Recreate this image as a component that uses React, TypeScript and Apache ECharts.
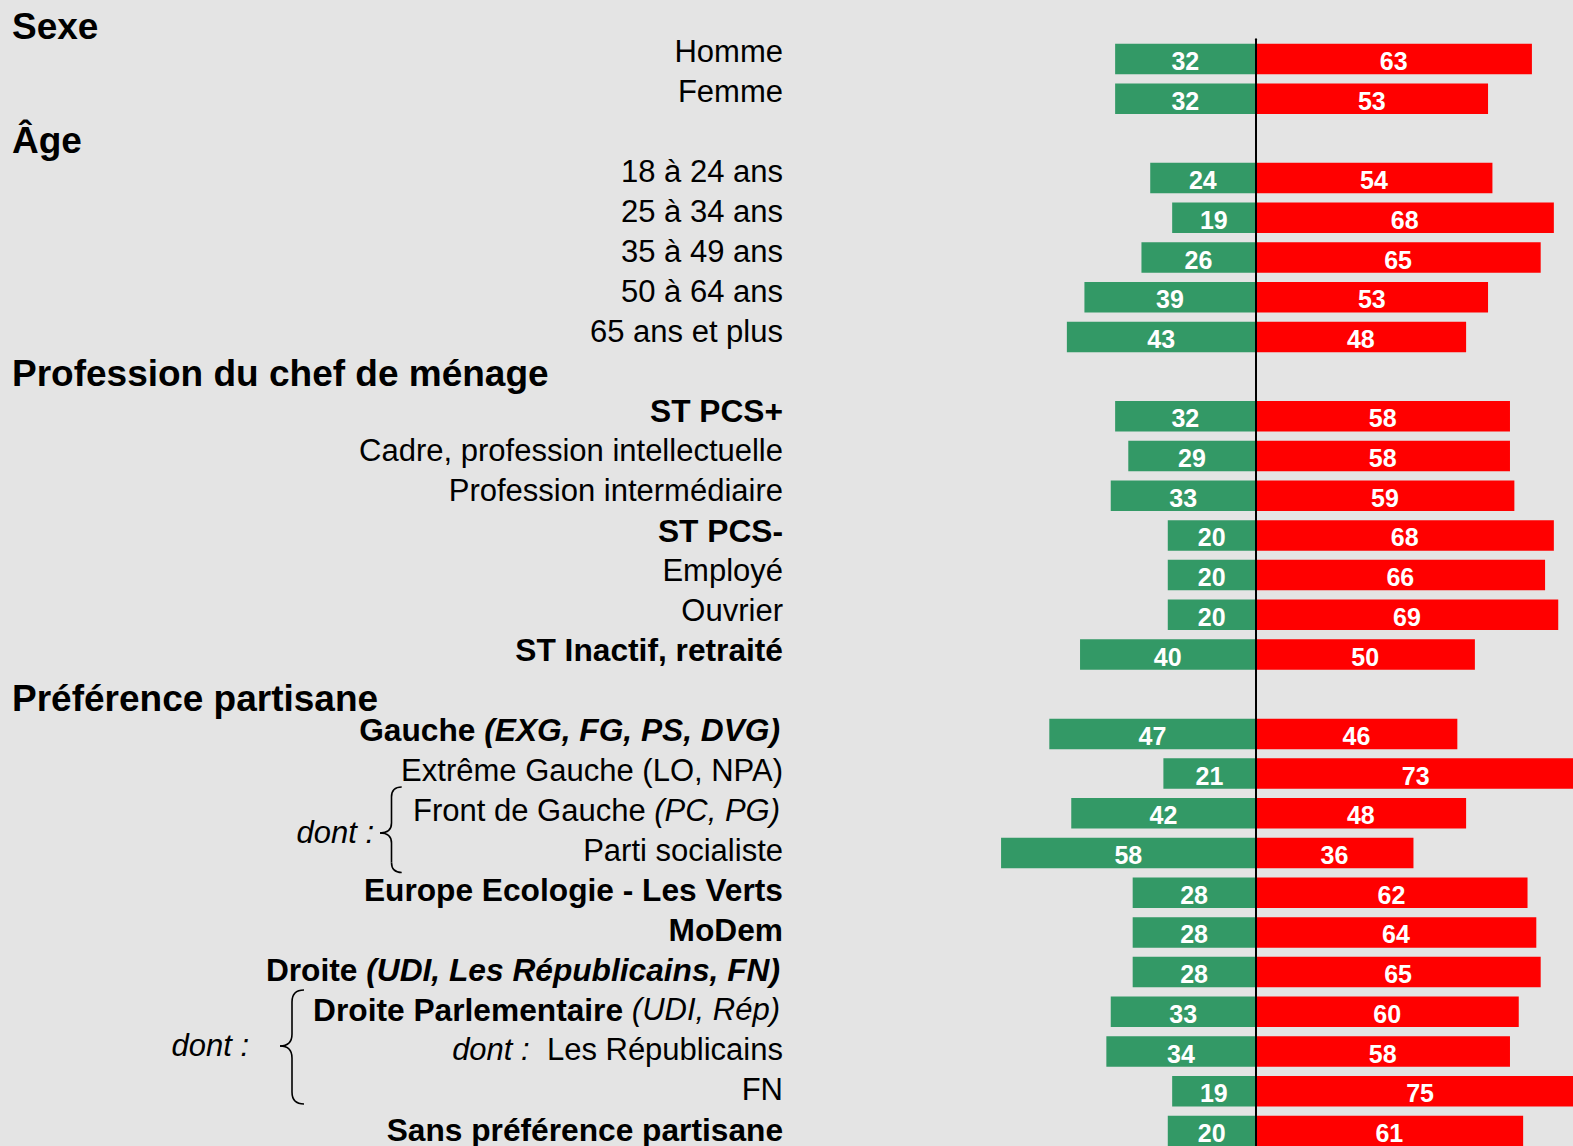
import React, { useEffect, useRef } from 'react';
import * as echarts from 'echarts';

// ---- data ----
const categories: string[] = [
  'Sexe',
  'Homme',
  'Femme',
  'Âge',
  '18 à 24 ans',
  '25 à 34 ans',
  '35 à 49 ans',
  '50 à 64 ans',
  '65 ans et plus',
  'Profession du chef de ménage',
  'ST PCS+',
  'Cadre, profession intellectuelle',
  'Profession intermédiaire',
  'ST PCS-',
  'Employé',
  'Ouvrier',
  'ST Inactif, retraité',
  'Préférence partisane',
  'Gauche (EXG, FG, PS, DVG)',
  'Extrême Gauche (LO, NPA)',
  'Front de Gauche (PC, PG)',
  'Parti socialiste',
  'Europe Ecologie - Les Verts',
  'MoDem',
  'Droite (UDI, Les Républicains, FN)',
  'Droite Parlementaire (UDI, Rép)',
  'dont : Les Républicains',
  'FN',
  'Sans préférence partisane',
];

const headerNames: string[] = ['Sexe', 'Âge', 'Profession du chef de ménage', 'Préférence partisane'];

const greenValues: (number | null)[] = [
  null, 32, 32,
  null, 24, 19, 26, 39, 43,
  null, 32, 29, 33, 20, 20, 20, 40,
  null, 47, 21, 42, 58, 28, 28, 28, 33, 34, 19, 20,
];

const redValues: (number | null)[] = [
  null, 63, 53,
  null, 54, 68, 65, 53, 48,
  null, 58, 58, 59, 68, 66, 69, 50,
  null, 46, 73, 48, 36, 62, 64, 65, 60, 58, 75, 61,
];

const boldLabels: string[] = [
  'ST PCS+', 'ST PCS-', 'ST Inactif, retraité', 'Europe Ecologie - Les Verts', 'MoDem', 'Sans préférence partisane',
];

const mixedLabels: Record<string, string> = {
  'Gauche (EXG, FG, PS, DVG)': '{b|Gauche }{bie|(EXG, FG, PS, DVG)}',
  'Front de Gauche (PC, PG)': '{n|Front de Gauche }{ie|(PC, PG)}',
  'Droite (UDI, Les Républicains, FN)': '{b|Droite }{bie|(UDI, Les Républicains, FN)}',
  'Droite Parlementaire (UDI, Rép)': '{b|Droite Parlementaire }{ie|(UDI, Rép)}',
  'dont : Les Républicains': '{i|dont :}{n|  Les Républicains}',
};

const FONT = '"Liberation Sans", Arial, Helvetica, sans-serif';
const GREEN = '#339966';
const RED = '#ff0000';
const BG = '#e4e4e4';

function braceElements(right: number, spine: number, tip: number, top: number, mid: number, bottom: number, r: number) {
  const style = { stroke: '#000', lineWidth: 1.6, fill: 'none' };
  return [
    { type: 'bezierCurve', shape: { x1: right, y1: top, cpx1: spine, cpy1: top, x2: spine, y2: top + r }, style },
    { type: 'line', shape: { x1: spine, y1: top + r, x2: spine, y2: mid - r }, style },
    { type: 'bezierCurve', shape: { x1: spine, y1: mid - r, cpx1: spine, cpy1: mid, x2: tip, y2: mid }, style },
    { type: 'bezierCurve', shape: { x1: tip, y1: mid, cpx1: spine, cpy1: mid, x2: spine, y2: mid + r }, style },
    { type: 'line', shape: { x1: spine, y1: mid + r, x2: spine, y2: bottom - r }, style },
    { type: 'bezierCurve', shape: { x1: spine, y1: bottom - r, cpx1: spine, cpy1: bottom, x2: right, y2: bottom }, style },
  ];
}

export default function App() {
  const ref = useRef<HTMLDivElement>(null);

  useEffect(() => {
    if (!ref.current) return;
    const chart = echarts.init(ref.current, undefined, { renderer: 'svg' });

    const barCats = categories.slice(1);
    const greenData = greenValues.slice(1).map((v) => (v == null ? null : -v));
    const redData = redValues.slice(1);

    const labelFormatter = (value: string) => {
      const hi = headerNames.indexOf(value);
      if (hi >= 0) return `{h${hi}|${value}}`;
      if (mixedLabels[value]) return mixedLabels[value];
      if (boldLabels.indexOf(value) >= 0) return `{b|${value}}`;
      return `{n|${value}}`;
    };

    const base = { fontFamily: FONT, fontSize: 31, color: '#000' };
    const bold = { fontFamily: FONT, fontSize: 31.7, color: '#000', fontWeight: 'bold' };
    const header = { fontFamily: FONT, fontSize: 37, fontWeight: 'bold', color: '#000', width: 771, align: 'left' };

    const valueLabel = {
      show: true,
      position: 'inside',
      color: '#fff',
      fontFamily: FONT,
      fontWeight: 'bold',
      fontSize: 25,
      offset: [0, 2],
      formatter: (p: any) => String(Math.abs(p.value)),
    };

    const option: any = {
      animation: false,
      backgroundColor: BG,
      grid: [
        { left: 816.8, top: 39.15, width: 789.7, height: 28 * 39.7, outerBoundsMode: 'none', containLabel: false },
        { left: 790, top: -8.2, width: 1, height: 29 * 39.92, outerBoundsMode: 'none', containLabel: false },
      ],
      xAxis: [
        { type: 'value', gridIndex: 0, min: -100, max: 80, show: false },
        { type: 'value', gridIndex: 1, min: 0, max: 1, show: false },
      ],
      yAxis: [
        {
          type: 'category',
          gridIndex: 0,
          inverse: true,
          data: barCats,
          z: 10,
          axisLine: { show: true, onZero: true, lineStyle: { color: '#000', width: 2 } },
          axisTick: { show: false },
          axisLabel: { show: false },
          splitLine: { show: false },
        },
        {
          type: 'category',
          gridIndex: 1,
          inverse: true,
          data: categories,
          axisLine: { show: false },
          axisTick: { show: false },
          splitLine: { show: false },
          axisLabel: {
            show: true,
            interval: 0,
            margin: 7,
            formatter: labelFormatter,
            rich: {
              n: { ...base },
              b: { ...bold },
              i: { ...base, fontStyle: 'italic' },
              ie: { ...base, fontStyle: 'italic', padding: [0, 3, 0, 0] },
              bie: { ...bold, fontStyle: 'italic', padding: [0, 3, 0, 0] },
              h0: { ...header, padding: [30, 0, 0, 0] },
              h1: { ...header, padding: [17, 0, 0, 0] },
              h2: { ...header, padding: [4, 0, 0, 0] },
              h3: { ...header, padding: [17, 0, 0, 0] },
            },
          },
        },
      ],
      series: [
        {
          type: 'bar',
          name: 'green',
          xAxisIndex: 0,
          yAxisIndex: 0,
          data: greenData,
          barWidth: 30.5,
          barGap: '-100%',
          itemStyle: { color: GREEN },
          label: valueLabel,
        },
        {
          type: 'bar',
          name: 'red',
          xAxisIndex: 0,
          yAxisIndex: 0,
          data: redData,
          barWidth: 30.5,
          barGap: '-100%',
          itemStyle: { color: RED },
          label: valueLabel,
        },
      ],
      graphic: [
        ...braceElements(401.7, 391.5, 380, 787, 833, 872.5, 10),
        ...braceElements(304, 292, 280, 990, 1046, 1104, 12),
        {
          type: 'text',
          x: 374,
          y: 832,
          style: { text: 'dont :', fill: '#000', fontFamily: FONT, fontSize: 31, fontStyle: 'italic', align: 'right', verticalAlign: 'middle' },
        },
        {
          type: 'text',
          x: 249,
          y: 1045,
          style: { text: 'dont :', fill: '#000', fontFamily: FONT, fontSize: 31, fontStyle: 'italic', align: 'right', verticalAlign: 'middle' },
        },
      ],
    };

    chart.setOption(option);
    return () => chart.dispose();
  }, []);

  return <div ref={ref} style={{ position: 'absolute', left: 0, top: 0, width: 1573, height: 1146 }} />;
}
